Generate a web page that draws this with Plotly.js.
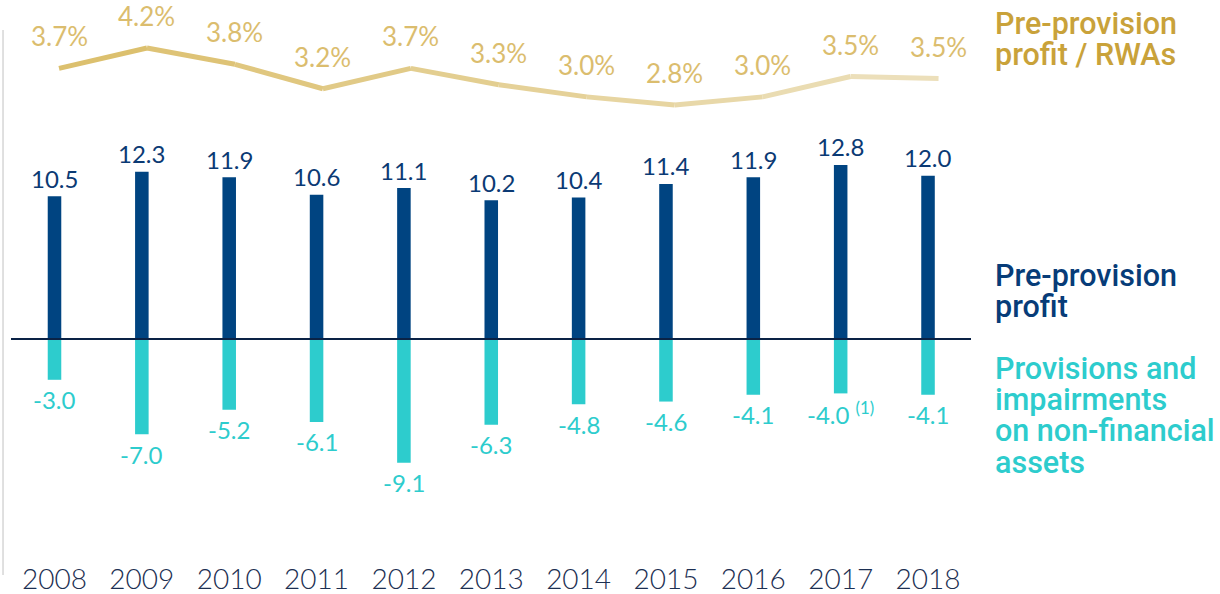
<!DOCTYPE html>
<html>
<head>
<meta charset="utf-8">
<script src="https://cdn.plot.ly/plotly-3.0.1.min.js"></script>
<style>html,body{margin:0;padding:0;background:#fff;}#chart{width:1220px;height:594px;}</style>
</head>
<body>
<div id="chart"></div>
<script>
// ---- data ----
var years = ["2008","2009","2010","2011","2012","2013","2014","2015","2016","2017","2018"];
var preProvisionProfit = [10.5, 12.3, 11.9, 10.6, 11.1, 10.2, 10.4, 11.4, 11.9, 12.8, 12.0];
var provisions = [-3.0, -7.0, -5.2, -6.1, -9.1, -6.3, -4.8, -4.6, -4.1, -4.0, -4.1];
var provisionNotes = ["", "", "", "", "", "", "", "", "", "(1)", ""];
var profitOverRWAs = [3.7, 4.2, 3.8, 3.2, 3.7, 3.3, 3.0, 2.8, 3.0, 3.5, 3.45];
var profitOverRWAsLabels = ["3.7%","4.2%","3.8%","3.2%","3.7%","3.3%","3.0%","2.8%","3.0%","3.5%","3.5%"];
var legendGold = ["Pre-provision", "profit / RWAs"];
var legendNavy = ["Pre-provision", "profit"];
var legendAqua = ["Provisions and", "impairments", "on non-financial", "assets"];

// ---- style ----
var NAVY = "#004481", AQUA = "#2dcccd", GOLD_TXT = "#dbbd6e", GOLD_LEG = "#c9a23a";
var NUM_FONT = "Lato, 'Open Sans', sans-serif";
var LEG_FONT = "Roboto, 'Noto Sans', sans-serif";

var traces = [];
traces.push({type:"bar", x:years, y:preProvisionProfit, marker:{color:NAVY}, width:0.155, hoverinfo:"skip", xaxis:"x", yaxis:"y"});
traces.push({type:"bar", x:years, y:provisions, marker:{color:AQUA}, width:0.155, hoverinfo:"skip", xaxis:"x", yaxis:"y"});

// line drawn as segments with a fading gold colour
var c0 = [220,192,110], c1 = [236,223,186];
for (var i = 0; i < years.length - 1; i++) {
  var t = i / (years.length - 2);
  var col = "rgb(" + c0.map(function(v,k){return Math.round(v + (c1[k]-v)*t);}).join(",") + ")";
  traces.push({type:"scatter", mode:"lines", x:years.slice(i,i+2), y:profitOverRWAs.slice(i,i+2),
    line:{color:col, width:5}, hoverinfo:"skip", xaxis:"x2", yaxis:"y2"});
}

var annotations = [];
years.forEach(function(yr, i){
  annotations.push({x:i, y:preProvisionProfit[i], xref:"x", yref:"y", text:preProvisionProfit[i].toFixed(1),
    showarrow:false, yanchor:"middle", yshift:18, font:{family:NUM_FONT, size:24, color:"#0b3a74"}});
  var note = provisionNotes[i] ? " <sup>" + provisionNotes[i] + "</sup>" : "";
  annotations.push({x:i, y:provisions[i], xref:"x", yref:"y", text:provisions[i].toFixed(1) + note,
    showarrow:false, yanchor:"middle", yshift:-20, font:{family:NUM_FONT, size:24, color:AQUA}});
  annotations.push({x:i, y:profitOverRWAs[i], xref:"x2", yref:"y2", text:profitOverRWAsLabels[i],
    showarrow:false, yanchor:"middle", yshift:32, font:{family:NUM_FONT, size:26, color:GOLD_TXT}});
});

function py(pix){ return (560 - pix) / 550; }
function legendBlock(lines, topPix, color){
  lines.forEach(function(s, k){
    annotations.push({xref:"paper", yref:"paper", x:1.0229, y:py(topPix + k*31.5), xanchor:"left", yanchor:"middle", align:"left",
      text:s, showarrow:false, font:{family:LEG_FONT, size:30.5, color:color, weight:500}});
  });
}
legendBlock(legendGold, 23, GOLD_LEG);
legendBlock(legendNavy, 275, "#073c78");
legendBlock(legendAqua, 368, AQUA);

var layout = {
  width:1220, height:594,
  margin:{l:11, r:249, t:10, b:34},
  paper_bgcolor:"#fff", plot_bgcolor:"#fff",
  showlegend:false, barmode:"overlay",
  xaxis:{type:"category", range:[-0.498, 10.492], showgrid:false, zeroline:false, showline:false, ticks:"",
    tickfont:{family:NUM_FONT, size:28, color:"#1c2f52", weight:300}, fixedrange:true},
  xaxis2:{type:"category", overlaying:"x", range:[-0.546, 10.369], visible:false, fixedrange:true},
  yaxis:{range:[-16.25, 24.19], visible:false, showgrid:false, zeroline:false, fixedrange:true},
  yaxis2:{range:[-8.381, 5.135], overlaying:"y", visible:false, showgrid:false, zeroline:false, fixedrange:true},
  annotations:annotations,
  shapes:[
    {type:"line", xref:"paper", yref:"y", x0:0, x1:1, y0:0, y1:0, line:{color:"#0a2245", width:2}, layer:"above"},
    {type:"line", xref:"paper", yref:"paper", x0:-0.0083, x1:-0.0083, y0:py(575), y1:py(30), line:{color:"#d6d6d6", width:1.5}, layer:"below"}
  ]
};

Plotly.newPlot("chart", traces, layout, {displayModeBar:false, staticPlot:true});
</script>
</body>
</html>
